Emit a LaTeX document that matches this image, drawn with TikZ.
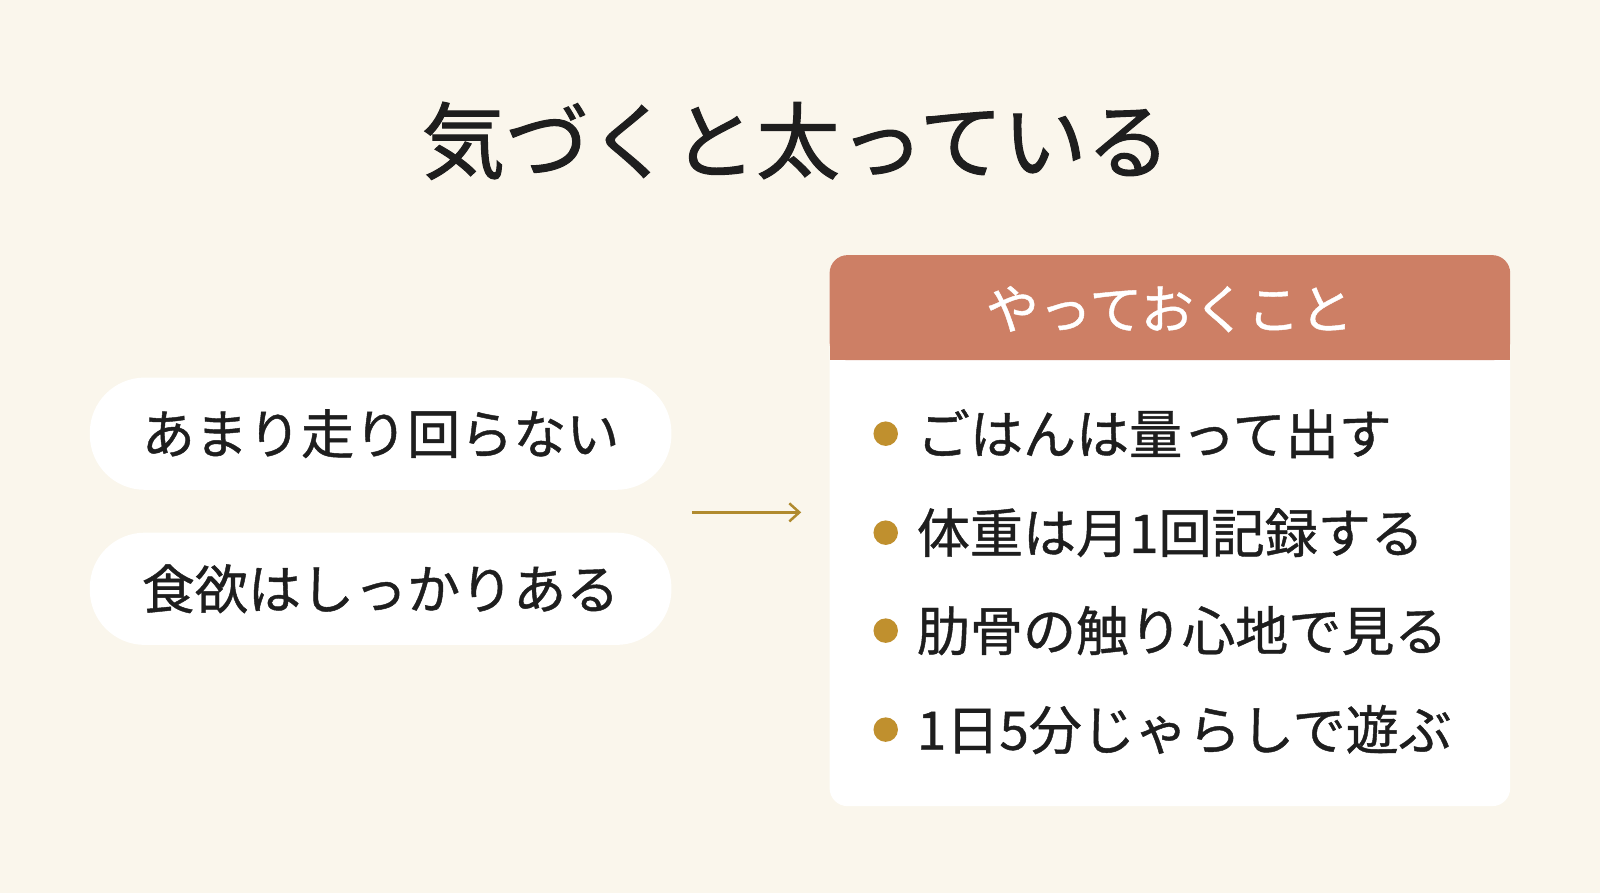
\documentclass[tikz,border=0pt]{standalone}
\usepackage{fontspec}
\usetikzlibrary{arrows.meta}
\setmainfont{Noto Sans CJK JP}
\newfontfamily\med{Noto Sans CJK JP}[FakeBold=0.8]
\newfontfamily\ttl{Noto Sans CJK JP}[FakeBold=1.2]
\definecolor{bg}{HTML}{FAF6EC}
\definecolor{head}{HTML}{CD7F65}
\definecolor{gold}{HTML}{B08A2E}
\definecolor{dot}{HTML}{C0902E}
\definecolor{txt}{HTML}{1E1E1E}
\begin{document}
\begin{tikzpicture}[x=1pt,y=-1pt,scale=1.0204,every node/.append style={transform shape},
 pill/.style={fill=white,rounded corners=55pt,minimum width=570pt,minimum height=110pt,font=\med\fontsize{52}{56}\selectfont,text=txt},
 item/.style={anchor=west,font=\med\fontsize{52}{56}\selectfont,text=txt},
 bul/.style={circle,fill=dot,minimum size=24pt,inner sep=0}]
\fill[bg] (0,0) rectangle (1568,875);
\useasboundingbox (0,0) rectangle (1568,875);
\node[font=\ttl\fontsize{82}{88}\selectfont,text=txt] (title) at (780,138) {気づくと太っている};
\node[pill] (p1) at (373,425) {あまり走り回らない};
\node[pill] (p2) at (373,577) {食欲はしっかりある};
\coordinate (a1) at (678,502);
\coordinate (a2) at (785,502);
\draw[gold,line width=2.5pt,-{Straight Barb[length=10pt,width=18pt]}] (a1) -- (a2);
\fill[white,rounded corners=18pt] (813,250) rectangle (1480,790);
\fill[head,rounded corners=18pt] (813,250) rectangle (1480,353);
\fill[head] (813,320) rectangle (1480,353);
\node[font=\med\fontsize{52}{56}\selectfont,text=white] (h) at (1146,303) {やっておくこと};
\foreach \y/\t [count=\i] in {425/ごはんは量って出す,522/体重は月1回記録する,618/肋骨の触り心地で見る,715/1日5分じゃらしで遊ぶ}{
 \node[bul] (b\i) at (868,\y) {};
 \node[item] (t\i) at (895,\y) {\t};
}
\end{tikzpicture}
\end{document}
